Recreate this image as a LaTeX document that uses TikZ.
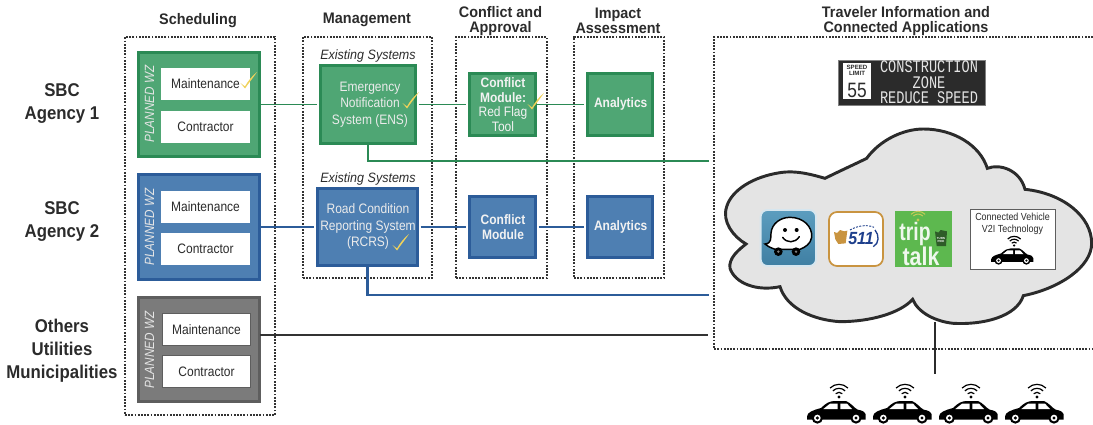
\documentclass[tikz,border=0pt]{standalone}
\usepackage{fontspec}
\setmainfont{Liberation Sans}
\newfontfamily\signfont{Liberation Mono}
\definecolor{gfill}{HTML}{4FA674}
\definecolor{gedge}{HTML}{2B8A55}
\definecolor{bfill}{HTML}{4E7FB2}
\definecolor{bedge}{HTML}{2C5C99}
\definecolor{kfill}{HTML}{7B7B7B}
\definecolor{kedge}{HTML}{5E5E5E}
\definecolor{inkk}{HTML}{2B2B2B}
\definecolor{zonek}{HTML}{333333}
\definecolor{cloudf}{HTML}{E4E4E4}
\definecolor{checky}{HTML}{F0D25A}
\definecolor{orng}{HTML}{C99440}
\definecolor{navy}{HTML}{1E3F8C}
\definecolor{tgreen}{HTML}{5DB84F}
\definecolor{wazeb}{HTML}{5C9DBF}
\definecolor{wazed}{HTML}{3F7FA3}
\newcommand{\fsz}[2]{\fontsize{#1}{#2}\selectfont}
\newcommand{\tallt}[1]{\scalebox{1}[1.14]{#1}}
\tikzset{
  x=0.75pt,y=-0.75pt,
  wh/.style 2 args={minimum width=#1*0.75pt,minimum height=#2*0.75pt,inner sep=0pt,outer sep=0pt},
  zone/.style={draw=zonek,line width=0.95pt,dash pattern=on 1.4pt off 1pt},
  head/.style={font=\fsz{10.8}{10.2}\bfseries,text=inkk,align=center,yscale=1.06},
  side/.style={font=\fsz{12.6}{15.6}\bfseries,text=inkk,align=center,yscale=1.1},
  gbox/.style={draw=gedge,fill=gfill,line width=1.9pt},
  bbox/.style={draw=bedge,fill=bfill,line width=1.9pt},
  kbox/.style={draw=kedge,fill=kfill,line width=1.9pt},
  inner/.style={fill=white,font=\fsz{9}{11},text=inkk},
  wz/.style={rotate=90,font=\fsz{8.8}{11}\itshape,text=white!90!black},
  sysw/.style={font=\fsz{9}{10.9},text=white!92!black,align=center,yscale=1.14},
  modw/.style={font=\fsz{9}{9.6}\bfseries,text=white!95!black,align=center,yscale=1.14},
  exist/.style={font=\fsz{9.4}{11}\itshape,text=inkk,yscale=1.08},
  gline/.style={draw=gedge,line width=0.9pt},
  bline/.style={draw=bedge,line width=0.8pt},
  gthick/.style={draw=gedge,line width=1.5pt},
  bthick/.style={draw=bedge,line width=1.6pt},
  kline/.style={draw=zonek,line width=0.85pt},
  gapend/.style={shorten >=2.2pt},
  tick/.pic={\fill[checky] (-4.5,-5) -- (0,-1.6) .. controls (3,-7) and (7,-12) .. (12,-16) .. controls (8,-10) and (3,-4) .. (0,0.5) -- cycle;},
  caricon/.pic={
    \fill[black] (-87,10) .. controls (-85,-3) and (-70,-8) .. (-45,-15) .. controls (-30,-30) and (-20,-35) .. (-5,-36) -- (30,-36) .. controls (45,-30) and (55,-15) .. (65,-10) .. controls (80,-8) and (88,-2) .. (89,5) -- (89,20) -- (-87,20) -- cycle;
    \fill[white] (-38,-12) -- (-18,-28) -- (5,-28) -- (5,-12) -- cycle;
    \fill[white] (13,-28) -- (33,-28) -- (48,-12) -- (13,-12) -- cycle;
    \foreach \wx in {-56,60}{
      \fill[black] (\wx,15) circle[radius=17];
      \fill[white] (\wx,15) circle[radius=10];
      \fill[black] (\wx,15) circle[radius=5];
    }
    \fill[black] (9,-48) circle[radius=5];
    \draw[black,line width=0.9pt] (-0.9,-57.9) arc[start angle=225,end angle=315,radius=14];
    \draw[black,line width=0.9pt] (-9.4,-66.4) arc[start angle=225,end angle=315,radius=26];
    \draw[black,line width=0.9pt] (-17.9,-74.9) arc[start angle=225,end angle=315,radius=38];
  },
}
\begin{document}
\begin{tikzpicture}
\useasboundingbox (0,0) rectangle (1093,425);
% zones
\node[zone,wh={150}{378}] (zsched) at (200,226) {};
\node[zone,wh={129}{241}] (zmgmt) at (367.5,157.5) {};
\node[zone,wh={91}{241}] (zconf) at (501.5,157.5) {};
\node[zone,wh={90}{241}] (zimp) at (619,157.5) {};
\draw[zone] (1093,37) -- (714,37) -- (714,349) -- (1093,349);
% headings
\node[head] (hs) at (198,20.5) {Scheduling};
\node[head] (hm) at (367,20) {Management};
\node[head] (hc) at (500.5,21) {Conflict and\\Approval};
\node[head] (hi) at (618,21) {Impact\\Assessment};
\node[head] (ht) at (906,21) {Traveler Information and\\Connected Applications};
\node[side] (sa1) at (62,103.5) {SBC\\Agency 1};
\node[side] (sa2) at (62,221.5) {SBC\\Agency 2};
\node[side] (sa3) at (62,351) {Others\\Utilities\\Municipalities};
% cloud
\begin{scope}[shift={(710,30)},scale=1/3]
\filldraw[fill=cloudf,draw=inkk,line width=2.2pt]
 (108,642) .. controls (70,620) and (35,575) .. (50,530)
 .. controls (65,480) and (130,440) .. (210,428)
 .. controls (260,420) and (310,435) .. (345,445)
 .. controls (385,425) and (440,400) .. (470,385)
 .. controls (510,330) and (580,297) .. (640,297)
 .. controls (730,297) and (810,345) .. (832,415)
 .. controls (870,400) and (930,420) .. (945,478)
 .. controls (1060,490) and (1145,560) .. (1145,640)
 .. controls (1145,710) and (1050,775) .. (940,797)
 .. controls (920,860) and (820,885) .. (730,880)
 .. controls (680,875) and (625,850) .. (608,808)
 .. controls (570,850) and (480,875) .. (390,875)
 .. controls (310,870) and (230,835) .. (210,770)
 .. controls (140,785) and (75,760) .. (60,715)
 .. controls (55,685) and (85,660) .. (108,642) -- cycle;
\end{scope}
\coordinate (cloudfoot) at (935,322);
\coordinate (carsTop) at (935,374);
\draw[draw=inkk,line width=1.7pt] (cloudfoot) -- (carsTop);
% planned WZ boxes
\node[gbox,wh={121.5}{104.5}] (gwz) at (199,104.5) {};
\node[bbox,wh={121.5}{104.5}] (bwz) at (199,227) {};
\node[kbox,wh={121.5}{104.5}] (kwz) at (199,349.5) {};
\node[inner,wh={89}{32}] (gm) at (205.5,84) {\tallt{Maintenance}};
\node[inner,wh={89}{32}] (gc) at (205.5,127) {\tallt{Contractor}};
\node[inner,wh={89}{32}] (bm) at (205.5,206.5) {\tallt{Maintenance}};
\node[inner,wh={89}{32}] (bc) at (205.5,249) {\tallt{Contractor}};
\node[inner,draw=kedge,line width=1pt,wh={88}{32}] (km) at (206.5,329.5) {\tallt{Maintenance}};
\node[inner,draw=kedge,line width=1pt,wh={88}{32}] (kc) at (206.5,371.5) {\tallt{Contractor}};
\node[wz] (gl) at (149.5,104) {\tallt{PLANNED WZ}};
\node[wz] (bl) at (149.5,227) {\tallt{PLANNED WZ}};
\node[wz] (kl) at (149.5,350) {\tallt{PLANNED WZ}};
% management
\node[exist] (e1) at (368,56) {Existing Systems};
\node[exist] (e2) at (368,178.5) {Existing Systems};
\node[gbox,wh={95.5}{78.5}] (ens) at (368,104.5) {};
\node[sysw] (enst) at (370,104.5) {Emergency\\Notification\\System (ENS)};
\node[bbox,wh={100.5}{77.5}] (rcrs) at (367.5,227) {};
\node[sysw] (rcrst) at (368,226.5) {Road Condition\\Reporting System\\(RCRS)};
% conflict
\node[gbox,wh={66.5}{61.5}] (cg) at (502.5,104.5) {};
\node[modw] (cgt) at (503,104.5) {Conflict\\Module:\\\mdseries Red Flag\\\mdseries Tool};
\node[gbox,wh={65.5}{61.5}] (ag) at (620,104.5) {};
\node[modw] (agt) at (620.7,103.5) {Analytics};
\node[bbox,wh={66.5}{60.5}] (cb) at (502.5,227) {};
\node[modw] (cbt) at (503,227) {Conflict\\Module};
\node[bbox,wh={65.5}{60.5}] (ab) at (620,227) {};
\node[modw] (abt) at (620.7,227) {Analytics};
% connectors
\draw[gline,gapend] (gwz.east) -- (ens.west);
\draw[gline,shorten <=2.2pt,gapend] (ens.east) -- (cg.west);
\draw[gline,gapend] (cg.east) -- (ag.west);
\draw[bline,gapend] (bwz.east) -- (rcrs.west);
\draw[bline,shorten <=2.2pt,gapend] (rcrs.east) -- (cb.west);
\draw[bline,shorten <=2.2pt,gapend] (cb.east) -- (ab.west);
\coordinate (gend) at (709,161);
\coordinate (bend) at (709,295);
\coordinate (kend) at (708,335);
\draw[gthick] (ens.south) |- (gend);
\draw[bthick] (rcrs.south) |- (bend);
\draw[kline] (kwz.east |- kend) -- (kend);
% ticks
\pic at (245,88) {tick};
\pic at (407,108) {tick};
\pic at (397,250) {tick};
\pic at (532,109) {tick};
% sign
\node[fill=inkk,draw=gray,line width=0.4pt,wh={147}{45}] (sign) at (911.5,82.5) {};
\node[fill=white,wh={28}{36}] (lim) at (857,81) {};
\node[font=\fsz{4.6}{5}\bfseries,text=inkk,align=center] (limt) at (857,70.5) {SPEED\\LIMIT};
\node[font=\fsz{13}{13},text=inkk,yscale=1.2,inner sep=0pt] (lim55) at (857,90) {55};
\node[font=\signfont\fsz{10.2}{9},text=white!90!black,align=center,yscale=1.3,inner sep=0pt] (signt) at (929,82.5) {CONSTRUCTION\\ZONE\\REDUCE SPEED};
% waze
\begin{scope}[shift={(710,30)},scale=1/3]
\draw[draw=white!75!wazeb,top color=wazeb,bottom color=wazed,line width=1.4pt,rounded corners=5pt] (152,540) rectangle (318,708);
\filldraw[fill=white,draw=black,line width=1.1pt] (165,642) .. controls (185,640) and (182,625) .. (183,610) .. controls (185,580) and (212,562) .. (240,562) .. controls (280,562) and (308,590) .. (305,622) .. controls (302,642) and (285,652) .. (270,658) -- (195,658) .. controls (185,655) and (175,650) .. (165,642) -- cycle;
\fill[black] (225,600) circle[radius=6];
\fill[black] (260,600) circle[radius=6];
\draw[black,line width=1.1pt,line cap=round] (218,622) .. controls (230,640) and (255,640) .. (268,620);
\foreach \wx in {205,258}{
  \fill[black] (\wx,665) circle[radius=13];
  \fill[gray] (\wx,665) circle[radius=4];
}
% 511
\filldraw[fill=white,draw=orng,line width=1.3pt,rounded corners=6pt] (357,546) rectangle (519,708);
\fill[orng] (372,606) -- (381,609) -- (390,600) -- (402,604) -- (412,602) -- (407,640) -- (385,642) -- (376,628) -- cycle;
\draw[navy,line width=0.7pt,dash pattern=on 1.5pt off 1pt] (420,600) .. controls (440,588) and (470,582) .. (492,592);
\draw[navy,line width=1pt] (495,600) .. controls (508,615) and (508,640) .. (490,650);
\end{scope}
\node[font=\fsz{12}{12}\bfseries\itshape,text=navy,yscale=1.1,inner sep=0pt] (t511) at (861,239) {511};
% trip talk
\begin{scope}[shift={(710,30)},scale=1/3]
\fill[tgreen] (556,543) rectangle (726,711);
\draw[checky!70!tgreen,line width=0.8pt] (610,558) arc[start angle=225,end angle=315,radius=20];
\draw[checky!70!tgreen,line width=0.8pt] (603,553) arc[start angle=225,end angle=315,radius=30];
\fill[checky!70!tgreen] (624,570) circle[radius=5];
\fill[black!50!tgreen] (675,604) -- (685,608) -- (692,600) -- (711,604) -- (708,648) -- (680,648) -- cycle;
\end{scope}
\node[font=\fsz{2.2}{2.6}\bfseries,text=white,align=center,inner sep=0pt] (tp) at (941,240) {TURN\\PIKE};
\node[font=\fsz{14.5}{15}\bfseries,text=white!90!tgreen,yscale=1.3,inner sep=0pt] (trip) at (915,234) {trip};
\node[font=\fsz{16}{16}\bfseries,text=white!90!tgreen,yscale=1.2,inner sep=0pt] (talk) at (921,256) {talk};
% V2I
\node[fill=white,draw=kedge,line width=0.6pt,wh={85}{60}] (v2i) at (1012.5,239) {};
\node[font=\fsz{6.7}{7.8},text=inkk,align=center,yscale=1.15,inner sep=0pt] (v2it) at (1012.5,224) {Connected Vehicle\\V2I Technology};
\pic[scale=0.24] at (1012,257) {caricon};
% cars
\pic[scale=1/3] at (836,413) {caricon};
\pic[scale=1/3] at (902,413) {caricon};
\pic[scale=1/3] at (968,413) {caricon};
\pic[scale=1/3] at (1034,413) {caricon};
\end{tikzpicture}
\end{document}
